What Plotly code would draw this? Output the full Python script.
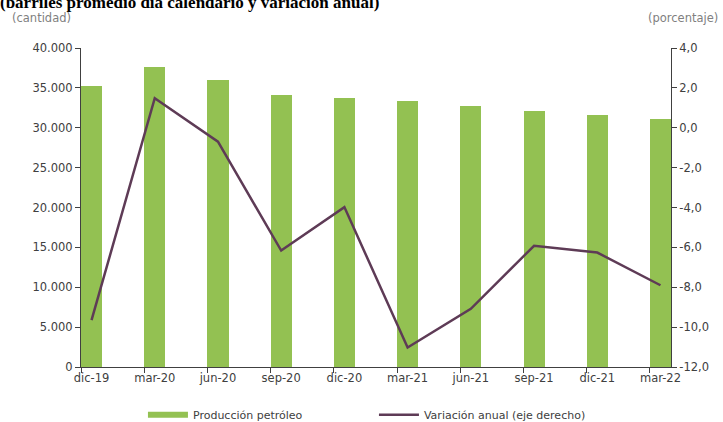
import plotly.graph_objects as go

categories = ["dic-19", "mar-20", "jun-20", "sep-20", "dic-20",
              "mar-21", "jun-21", "sep-21", "dic-21", "mar-22"]
produccion = [35200, 37600, 36000, 34100, 33700, 33400, 32700, 32100, 31600, 31050]
variacion = [-9.65, 1.48, -0.70, -6.16, -3.98, -11.02, -9.08, -5.92, -6.26, -7.90]

y2_ticks = [-12, -10, -8, -6, -4, -2, 0, 2, 4]
y2_labels = ["-12,0", "-10,0", "-8,0", "-6,0", "-4,0", "-2,0", "0,0", "2,0", "4,0"]

GREEN = "#93C152"
PURPLE = "#5E3B56"
AXIS = "#404040"
TXT = "#404040"

x = list(range(len(categories)))
half = 1 / 6

fig = go.Figure()
fig.add_trace(go.Bar(x=x, y=produccion, width=2 * half, marker=dict(color=GREEN, line=dict(width=0)),
                     name="Producción petróleo", showlegend=False, yaxis="y"))
fig.add_trace(go.Scatter(x=x, y=variacion, mode="lines", line=dict(color=PURPLE, width=2.5),
                         name="Variación anual (eje derecho)", showlegend=False, yaxis="y2"))
# legend entries
fig.add_trace(go.Scatter(x=[None], y=[None], mode="lines", line=dict(color=GREEN, width=6),
                         name="Producción petróleo", yaxis="y"))
fig.add_trace(go.Scatter(x=[None], y=[None], mode="lines", line=dict(color=PURPLE, width=2.5),
                         name="Variación anual (eje derecho)", yaxis="y2"))

fig.update_layout(
    width=723, height=422,
    margin=dict(l=81, r=52, t=48, b=55, autoexpand=False),
    paper_bgcolor="white", plot_bgcolor="white",
    separators=",.",
    font=dict(family="DejaVu Sans", size=11, color=TXT),
    bargap=0,
    xaxis=dict(
        range=[-half, len(categories) - 1 + half],
        tickvals=x, ticktext=categories, ticks="",
        showline=True, linecolor=AXIS, linewidth=1,
        showgrid=False, zeroline=False, automargin=False,
        tickfont=dict(size=11.5, color=TXT),
        minor=dict(tickvals=[i - half for i in x], ticks="outside", ticklen=5,
                   tickcolor=AXIS, tickwidth=1, showgrid=False),
    ),
    yaxis=dict(
        range=[0, 40000], dtick=5000, tickformat=",.0f",
        ticks="outside", ticklen=5, tickcolor=AXIS,
        showline=True, linecolor=AXIS, linewidth=1,
        showgrid=False, zeroline=False, automargin=False,
        tickfont=dict(size=11.5, color=TXT),
    ),
    yaxis2=dict(
        range=[-12, 4], tickvals=y2_ticks, ticktext=y2_labels,
        overlaying="y", side="right",
        ticks="outside", ticklen=5, tickcolor=AXIS,
        showline=True, linecolor=AXIS, linewidth=1,
        showgrid=False, zeroline=False, automargin=False,
        tickfont=dict(size=11.5, color=TXT),
    ),
    legend=dict(
        orientation="h", x=0.105, xanchor="left", y=-0.15, yanchor="middle",
        font=dict(size=11, color=TXT), itemwidth=40, entrywidth=176,
        bgcolor="rgba(0,0,0,0)",
    ),
    annotations=[
        dict(text="<b>(barriles promedio día calendario y variación anual)</b>", xref="paper", yref="paper",
             x=-0.141, y=1.143, xanchor="left", yanchor="middle", showarrow=False,
             font=dict(family="Liberation Serif", size=17, color="black")),
        dict(text="(cantidad)", xref="paper", yref="paper", x=-0.1203, y=1.094,
             xanchor="left", yanchor="middle", showarrow=False,
             font=dict(size=11.5, color="#7F7F7F")),
        dict(text="(porcentaje)", xref="paper", yref="paper", x=1.083, y=1.094,
             xanchor="right", yanchor="middle", showarrow=False,
             font=dict(size=11.5, color="#7F7F7F")),
    ],
)

fig.write_html("out.html", config={"displayModeBar": False},
               post_script="document.body.style.margin='0';document.body.style.overflow='hidden';")
